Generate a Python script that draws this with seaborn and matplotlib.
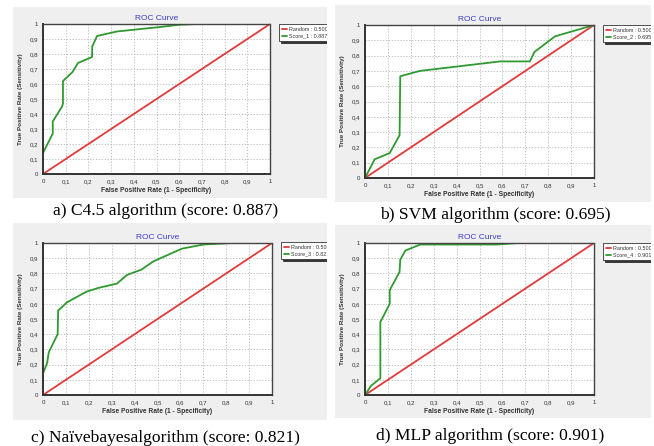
import matplotlib
matplotlib.use("Agg")
import matplotlib.pyplot as plt
import seaborn as sns
import numpy as np

# ---------------- data ----------------
c45_fpr = [0.0, 0.043, 0.043, 0.084, 0.088, 0.088, 0.106, 0.13, 0.154, 0.216, 0.217, 0.238, 0.325, 0.516, 0.60, 0.68]
c45_tpr = [0.14, 0.27, 0.35, 0.45, 0.47, 0.62, 0.645, 0.68, 0.74, 0.78, 0.85, 0.92, 0.95, 0.98, 0.995, 1.0]

svm_fpr = [0.0, 0.042, 0.108, 0.151, 0.154, 0.24, 0.59, 0.72, 0.74, 0.83, 1.0]
svm_tpr = [0.0, 0.122, 0.163, 0.28, 0.665, 0.70, 0.762, 0.762, 0.824, 0.926, 1.0]

nb_fpr = [0.0, 0.018, 0.025, 0.064, 0.066, 0.105, 0.19, 0.243, 0.323, 0.367, 0.43, 0.483, 0.607, 0.70, 0.83]
nb_tpr = [0.142, 0.21, 0.28, 0.40, 0.555, 0.61, 0.68, 0.705, 0.733, 0.79, 0.825, 0.88, 0.963, 0.99, 1.0]

mlp_fpr = [0.0, 0.026, 0.067, 0.067, 0.108, 0.108, 0.151, 0.154, 0.176, 0.241, 0.575, 0.67]
mlp_tpr = [0.0, 0.06, 0.11, 0.48, 0.60, 0.69, 0.81, 0.89, 0.95, 0.99, 0.99, 1.0]

random_line = [0.0, 1.0]

score_names = ["Score_1", "Score_2", "Score_3", "Score_4"]
score_values = ["0.887", "0.695", "0.821", "0.901"]
captions = ["a) C4.5 algorithm (score: 0.887)",
            "b) SVM algorithm (score: 0.695)",
            "c) Na\u00efvebayesalgorithm (score: 0.821)",
            "d) MLP algorithm (score: 0.901)"]
tick_vals = [0, 0.1, 0.2, 0.3, 0.4, 0.5, 0.6, 0.7, 0.8, 0.9, 1]
tick_labels = ["0", "0,1", "0,2", "0,3", "0,4", "0,5", "0,6", "0,7", "0,8", "0,9", "1"]

curves = [(c45_fpr, c45_tpr), (svm_fpr, svm_tpr), (nb_fpr, nb_tpr), (mlp_fpr, mlp_tpr)]

# ---------------- layout (pixels) ----------------
W, H = 654, 446
bg_boxes = [(13, 7, 327, 198), (335, 5, 651, 202), (13, 223, 327, 420), (335, 225, 651, 418)]
ax_boxes = [(43, 24, 270, 174), (365, 25, 594, 178), (43, 243, 272, 395), (365, 243, 594, 395)]
leg_pos = [(279, 24), (603, 25), (281, 242), (603, 243)]
cap_pos = [(166, 215), (495, 219), (165, 442), (490, 440)]

sns.set_style("white")
plt.rcParams["font.family"] = ["Liberation Sans", "DejaVu Sans"]

fig = plt.figure(figsize=(W / 100, H / 100), dpi=100)
fig.patch.set_facecolor("white")

def frac(box):
    x0, y0, x1, y1 = box
    return [x0 / W, 1 - y1 / H, (x1 - x0) / W, (y1 - y0) / H]

GREEN = "#2f9a2f"
RED = "#e23a3a"
TXT = "#333333"

for i in range(4):
    bg = fig.add_axes(frac(bg_boxes[i]))
    bg.set_facecolor("#efefef")
    bg.set_xticks([]); bg.set_yticks([])
    for s in bg.spines.values():
        s.set_visible(False)

    ax = fig.add_axes(frac(ax_boxes[i]))
    ax.set_facecolor("white")
    fpr, tpr = curves[i]
    sns.lineplot(x=random_line, y=random_line, ax=ax, color=RED, lw=1.3,
                 sort=False, estimator=None, label="Random : 0.500")
    sns.lineplot(x=fpr, y=tpr, ax=ax, color=GREEN, lw=1.3,
                 sort=False, estimator=None, label=f"{score_names[i]} : {score_values[i]}")
    ax.set_xlim(0, 1); ax.set_ylim(0, 1)
    ax.set_xticks(tick_vals); ax.set_yticks(tick_vals)
    ax.set_xticklabels(tick_labels, fontsize=4.4, color=TXT)
    ax.set_yticklabels(tick_labels, fontsize=4.4, color=TXT)
    ax.tick_params(axis="both", length=1.5, width=0.5, pad=2, colors=TXT)
    ax.grid(True, color="#b5b5b5", linestyle=(0, (1.5, 2)), linewidth=0.6)
    ax.set_axisbelow(True)
    for side in ("left", "bottom"):
        ax.spines[side].set_color(TXT); ax.spines[side].set_linewidth(1.4)
    for side in ("top", "right"):
        ax.spines[side].set_color("#444444"); ax.spines[side].set_linewidth(1.0)
        ax.spines[side].set_linestyle((0, (1, 1)))
    ax.set_xlabel("False Positive Rate (1 - Specificity)", fontsize=4.8,
                  fontweight="bold", color=TXT, labelpad=2)
    ax.set_ylabel("True Positive Rate (Sensitivity)", fontsize=4.5,
                  fontweight="bold", color=TXT, labelpad=5)
    ax.set_title("ROC Curve", fontsize=6, color="#3a3ad0", pad=3)

    # legend to the right of the axes, clipped by the screenshot region
    lx = leg_pos[i][0] / W
    ly = 1 - leg_pos[i][1] / H
    leg = ax.legend(loc="upper left", bbox_to_anchor=(lx, ly), bbox_transform=fig.transFigure,
                    fontsize=3.9, frameon=True, fancybox=False, handlelength=1.0,
                    handletextpad=0.4, borderpad=0.5, labelspacing=0.35, borderaxespad=0,
                    shadow={"color": "#222222", "alpha": 0.9, "ox": 1.3, "oy": -1.3})
    leg.get_frame().set_edgecolor(TXT)
    leg.get_frame().set_linewidth(0.6)
    for t in leg.get_texts():
        t.set_color(TXT)
    for a in leg.findobj():
        a.set_clip_on(True)
        a.set_clip_box(bg.bbox)

    fig.text(cap_pos[i][0] / W, 1 - cap_pos[i][1] / H, captions[i],
             fontsize=12.6, family="Liberation Serif", ha="center", va="baseline", color="black")

fig.savefig("out.png", dpi=100)
